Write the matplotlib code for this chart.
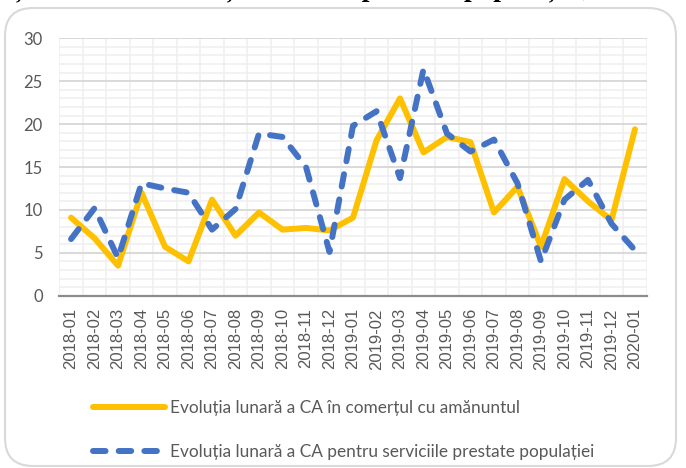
import matplotlib.pyplot as plt
import numpy as np
from matplotlib.patches import FancyBboxPatch

luni = ['2018-01', '2018-02', '2018-03', '2018-04', '2018-05', '2018-06',
        '2018-07', '2018-08', '2018-09', '2018-10', '2018-11', '2018-12',
        '2019-01', '2019-02', '2019-03', '2019-04', '2019-05', '2019-06',
        '2019-07', '2019-08', '2019-09', '2019-10', '2019-11', '2019-12',
        '2020-01']

# evolutia lunara, %
comert = [9.1, 6.7, 3.5, 12.0, 5.7, 4.0, 11.2, 7.0, 9.7, 7.7, 7.9, 7.6,
          9.1, 18.1, 23.0, 16.7, 18.5, 17.9, 9.7, 12.7, 5.7, 13.6, 11.0, 8.8,
          19.4]
servicii = [6.6, 10.2, 4.4, 13.1, 12.5, 12.0, 7.7, 10.1, 18.9, 18.5, 15.0, 5.1,
            19.8, 21.5, 13.7, 26.4, 18.9, 16.8, 18.2, 13.1, 4.0, 11.2, 13.5, 8.4,
            5.3]

eticheta_comert = 'Evoluția lunară a CA în comerțul cu amănuntul'
eticheta_servicii = 'Evoluția lunară a CA pentru serviciile prestate populației'
titlu = 'Evoluția CA în comerțul cu amănuntul și serviciile prestate populației, %'

galben = '#FFC000'
albastru = '#4472C4'
gri_text = '#595959'

fig = plt.figure(figsize=(6.86, 4.68), dpi=100)

# chenar rotunjit
chenar = FancyBboxPatch((5/100, (468-466)/100), (676-5)/100, (466-8)/100,
                        boxstyle='round,pad=0,rounding_size=0.28',
                        transform=fig.dpi_scale_trans, fill=False,
                        edgecolor='#d9d9d9', linewidth=1.5)
fig.patches.append(chenar)

# titlul taiat sus (se vad doar codițele literelor)
fig.text(625/686, 1 + 4.5/468, titlu, ha='right', va='baseline',
         fontsize=20, fontweight='bold', family='Liberation Serif', color='black')

ax = fig.add_axes([59.3/686, 1 - 295.7/468, (646.7-59.3)/686, (295.7-38.3)/468])

x = np.arange(len(luni))
ax.plot(x, comert, color=galben, lw=4.3, solid_capstyle='round',
        solid_joinstyle='round', label=eticheta_comert, zorder=3)
ax.plot(x, servicii, color=albastru, lw=4.3, linestyle=(0, (2.1, 2.2)),
        dash_capstyle='round', dash_joinstyle='round', label=eticheta_servicii, zorder=3)

ax.set_xlim(-0.5, len(luni) - 0.5)
ax.set_ylim(0, 30)
ax.set_yticks(np.arange(0, 31, 5))
ax.set_yticks(np.arange(0, 31, 1), minor=True)
ax.set_xticks(x)
ax.set_xticks(np.arange(-0.5, len(luni), 0.5), minor=True)
ax.set_xticklabels(luni, rotation=90, fontsize=12, family='Liberation Sans', color=gri_text)
ax.tick_params(axis='x', which='both', length=0, pad=9)
ax.tick_params(axis='y', which='both', length=0, pad=12, labelsize=12, labelcolor=gri_text)
for t in ax.get_yticklabels():
    t.set_family('Lato')

ax.grid(which='minor', axis='both', color='#efefef', lw=1.1, zorder=0)
ax.grid(which='major', axis='y', color='#d9d9d9', lw=1.4, zorder=1)
ax.set_axisbelow(True)
for s in ['top', 'right', 'left']:
    ax.spines[s].set_visible(False)
ax.spines['bottom'].set_color('#8c8c8c')
ax.spines['bottom'].set_linewidth(1.6)

fig.legend(loc='upper left', bbox_to_anchor=(93/686, 1 - 400/468), frameon=False,
           prop={'family': 'Lato', 'size': 12.4}, labelcolor=gri_text,
           handlelength=4.2, handletextpad=0.3, labelspacing=1.6,
           borderpad=0, borderaxespad=0)

plt.savefig('out.png', dpi=100)
